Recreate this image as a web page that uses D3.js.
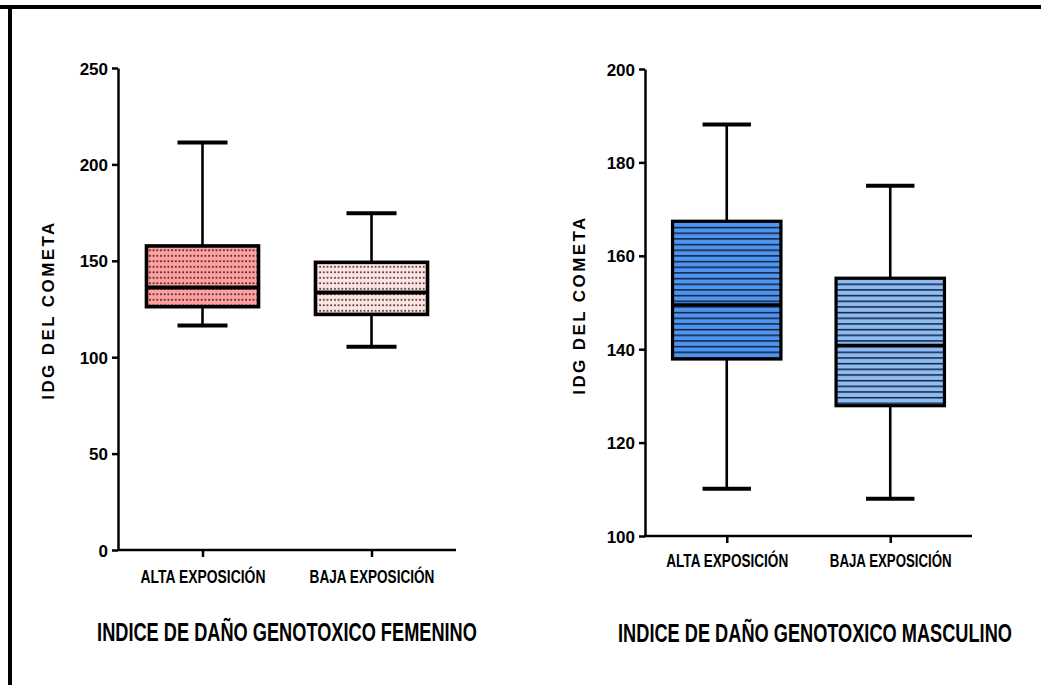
<!DOCTYPE html>
<html>
<head>
<meta charset="utf-8">
<script src="https://cdn.jsdelivr.net/npm/d3@7"></script>
<style>
  html, body { margin: 0; padding: 0; background: #fff; }
  svg { display: block; }
  .narrow { font-family: "Liberation Sans Narrow", "Arial Narrow", "Liberation Sans", Arial, sans-serif; font-weight: bold; fill: #000; }
  .ylab { font-family: "Liberation Sans", Arial, sans-serif; font-weight: bold; fill: #000; }
</style>
</head>
<body>
<script>
// Categories shared by both panels
const categories = ["ALTA EXPOSICIÓN", "BAJA EXPOSICIÓN"];

// Five-number summaries [min, Q1, median, Q3, max] per category
const femaleMin    = [116.5, 105.4];
const femaleQ1     = [126.2, 122.2];
const femaleMedian = [136.2, 133.6];
const femaleQ3     = [157.7, 149.2];
const femaleMax    = [211.3, 174.6];

const maleMin    = [110.1, 108.0];
const maleQ1     = [137.9, 127.9];
const maleMedian = [149.5, 140.8];
const maleQ3     = [167.4, 155.2];
const maleMax    = [188.1, 175.0];

// Axis ticks
const femaleTicks = [0, 50, 100, 150, 200, 250];
const maleTicks   = [100, 120, 140, 160, 180, 200];

const yTitle = "IDG DEL COMETA";
const femaleTitle = "INDICE DE DAÑO GENOTOXICO FEMENINO";
const maleTitle   = "INDICE DE DAÑO GENOTOXICO MASCULINO";

const W = 1041, H = 685;
const svg = d3.select("body").append("svg").attr("width", W).attr("height", H);

// Fill patterns: dotted pinks for the female panel, ruled blues for the male panel
const defs = svg.append("defs");
function dotPattern(id, bg) {
  const p = defs.append("pattern").attr("id", id).attr("patternUnits", "userSpaceOnUse")
    .attr("width", 3.7).attr("height", 5.5);
  p.append("rect").attr("width", 3.7).attr("height", 5.5).attr("fill", bg);
  p.append("rect").attr("x", 1.2).attr("y", 2).attr("width", 1.4).attr("height", 1.6).attr("fill", "#000");
}
function linePattern(id, bg) {
  const p = defs.append("pattern").attr("id", id).attr("patternUnits", "userSpaceOnUse")
    .attr("width", 10).attr("height", 5.67);
  p.append("rect").attr("width", 10).attr("height", 5.67).attr("fill", bg);
  p.append("rect").attr("x", 0).attr("y", 0).attr("width", 10).attr("height", 1.5).attr("fill", "#14203a");
}
dotPattern("dotsDark", "#ff9f9f");
dotPattern("dotsLight", "#ffe3e3");
linePattern("linesDark", "#4d95f0");
linePattern("linesLight", "#8dbbf4");

// Page frame (top and left rules)
svg.append("rect").attr("x", 0).attr("y", 5).attr("width", W).attr("height", 4).attr("fill", "#000");
svg.append("rect").attr("x", 8).attr("y", 5).attr("width", 4).attr("height", H - 5).attr("fill", "#000");

// Squeeze a text horizontally so that it spans the given width, centred on cx
function fitWidth(sel, cx, cy, width) {
  const w = sel.node().getComputedTextLength();
  const k = Math.min(1.3, width / w);
  sel.attr("x", 0).attr("y", 0).attr("text-anchor", "middle")
    .attr("transform", `translate(${cx},${cy}) scale(${k},1)`);
}

function panel(cfg) {
  const g = svg.append("g");
  const x = d3.scalePoint().domain(categories).range(cfg.xRange).padding(0.5);
  const y = d3.scaleLinear().domain(cfg.domain).range(cfg.yRange);
  const step = x.step();

  // Y axis
  const yAxis = g.append("g").attr("transform", `translate(${cfg.xRange[0]},0)`)
    .call(d3.axisLeft(y).tickValues(cfg.ticks).tickSize(6).tickPadding(4).tickSizeOuter(0));
  yAxis.select(".domain").attr("stroke", "#000").attr("stroke-width", 2.5);
  yAxis.selectAll(".tick line").attr("stroke", "#000").attr("stroke-width", 2.5);
  yAxis.selectAll(".tick text").attr("class", "narrow").attr("font-size", 17).attr("dy", "0.36em");

  // X axis
  const xAxis = g.append("g").attr("transform", `translate(0,${cfg.yRange[0]})`)
    .call(d3.axisBottom(x).tickSize(7).tickPadding(11).tickSizeOuter(0));
  xAxis.select(".domain").attr("stroke", "#000").attr("stroke-width", 2.5)
    .attr("d", `M${cfg.xRange[0] - 1},0H${cfg.xRange[1]}`);
  xAxis.selectAll(".tick line").attr("stroke", "#000").attr("stroke-width", 2.5);
  xAxis.selectAll(".tick text").attr("class", "narrow").attr("font-size", 18)
    .each(function () { fitWidth(d3.select(this), 0, cfg.catBaseline, cfg.catWidth); })
    .attr("dy", null);

  // Boxes
  const rows = categories.map((c, i) => ({
    c, min: cfg.min[i], q1: cfg.q1[i], med: cfg.med[i], q3: cfg.q3[i], max: cfg.max[i], fill: cfg.fills[i]
  }));
  const bw = step * 0.663, cw = step * 0.296;
  const b = g.selectAll(".box").data(rows).join("g").attr("class", "box");

  b.append("line").attr("x1", d => x(d.c)).attr("x2", d => x(d.c))
    .attr("y1", d => y(d.max)).attr("y2", d => y(d.q3)).attr("stroke", "#000").attr("stroke-width", 2.6);
  b.append("line").attr("x1", d => x(d.c)).attr("x2", d => x(d.c))
    .attr("y1", d => y(d.q1)).attr("y2", d => y(d.min)).attr("stroke", "#000").attr("stroke-width", 2.6);
  b.append("line").attr("x1", d => x(d.c) - cw / 2).attr("x2", d => x(d.c) + cw / 2)
    .attr("y1", d => y(d.max)).attr("y2", d => y(d.max)).attr("stroke", "#000").attr("stroke-width", 4);
  b.append("line").attr("x1", d => x(d.c) - cw / 2).attr("x2", d => x(d.c) + cw / 2)
    .attr("y1", d => y(d.min)).attr("y2", d => y(d.min)).attr("stroke", "#000").attr("stroke-width", 4);
  b.append("rect").attr("x", d => x(d.c) - bw / 2).attr("width", bw)
    .attr("y", d => y(d.q3)).attr("height", d => y(d.q1) - y(d.q3))
    .attr("fill", d => `url(#${d.fill})`).attr("stroke", "#000").attr("stroke-width", cfg.boxStroke);
  b.append("line").attr("x1", d => x(d.c) - bw / 2).attr("x2", d => x(d.c) + bw / 2)
    .attr("y1", d => y(d.med)).attr("y2", d => y(d.med)).attr("stroke", "#000").attr("stroke-width", cfg.medStroke);

  // Y axis title
  g.append("text").attr("class", "ylab").attr("font-size", 17).attr("letter-spacing", 2.4)
    .attr("text-anchor", "middle")
    .attr("transform", `translate(${cfg.yTitleX},${cfg.yTitleY}) rotate(-90)`)
    .attr("dy", "0.36em").text(yTitle);

  // Panel title
  const t = g.append("text").attr("class", "narrow").attr("font-size", 25).text(cfg.title);
  fitWidth(t, cfg.titleX, cfg.titleY, cfg.titleWidth);
}

panel({
  xRange: [118, 456], yRange: [550, 68], domain: [0, 250], ticks: femaleTicks,
  min: femaleMin, q1: femaleQ1, med: femaleMedian, q3: femaleQ3, max: femaleMax,
  fills: ["dotsDark", "dotsLight"], boxStroke: 3.6, medStroke: 4,
  catWidth: 125, catBaseline: 33, yTitleX: 48, yTitleY: 310,
  title: femaleTitle, titleX: 287, titleY: 641, titleWidth: 380
});

panel({
  xRange: [645, 972], yRange: [536, 69], domain: [100, 200], ticks: maleTicks,
  min: maleMin, q1: maleQ1, med: maleMedian, q3: maleQ3, max: maleMax,
  fills: ["linesDark", "linesLight"], boxStroke: 3.2, medStroke: 3.4,
  catWidth: 122, catBaseline: 31, yTitleX: 579, yTitleY: 305,
  title: maleTitle, titleX: 815, titleY: 642, titleWidth: 394
});
</script>
</body>
</html>
